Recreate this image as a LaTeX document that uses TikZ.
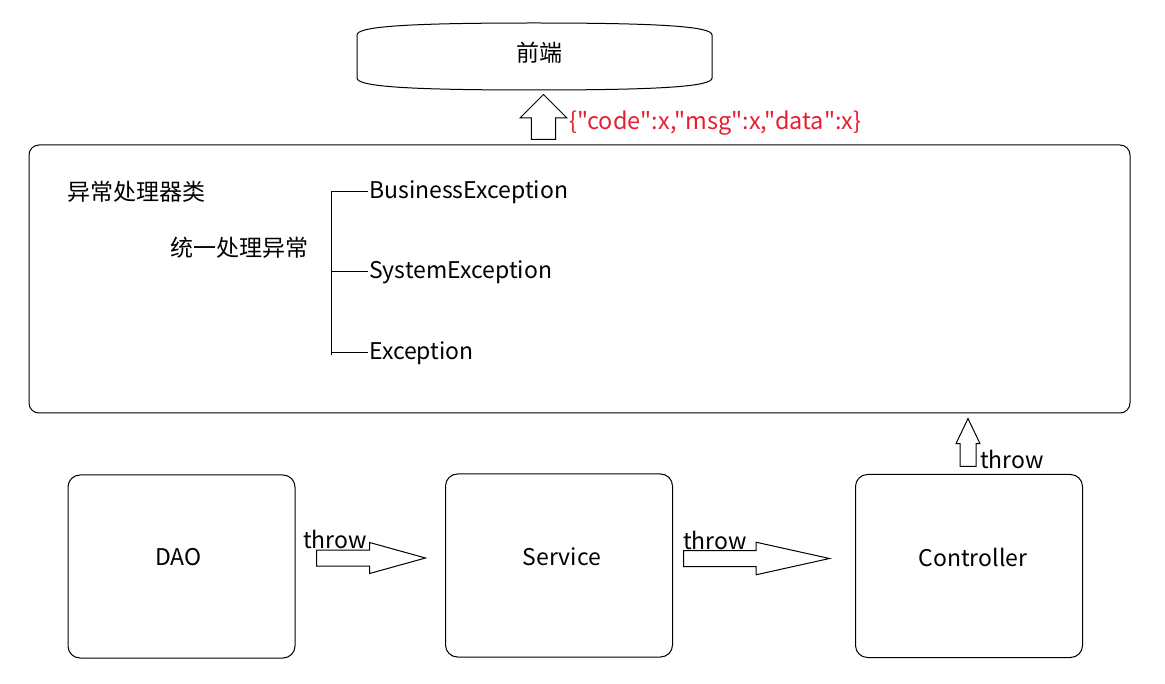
\documentclass[tikz,border=0pt]{standalone}
\usepackage{fontspec}
\setmainfont{Noto Sans CJK SC}
\newfontfamily\jsonfont{Noto Sans CJK SC}
\usetikzlibrary{shapes.arrows}
\definecolor{jsonred}{RGB}{232,30,48}
\tikzset{
  txt/.style={inner sep=0.75pt, font=\fontsize{17.25pt}{20pt}\selectfont},
  layerbox/.style={draw, line width=0.75pt, rounded corners=9pt, minimum width=170.25pt, minimum height=137.25pt},
  blockarrow/.style={draw, line width=0.75pt, single arrow, anchor=tail}
}
\begin{document}
\begin{tikzpicture}[x=0.75pt,y=0.75pt,yscale=-1,xscale=1]
	\useasboundingbox (0,0) rectangle (1165,684);
	%Front end [id:fe]
	\draw [line width=0.75pt] (357,35) .. controls (357,27) and (400,23) .. (534,23) .. controls (668,23) and (712,27) .. (712,35) -- (712,78) .. controls (712,86) and (668,90) .. (534,90) .. controls (400,90) and (357,86) .. (357,78) -- cycle ;
	\node [txt] (fe) at (539.5,53) {前端};
	%Handler class
	\draw [line width=0.75pt, rounded corners=7.5pt] (29,145) rectangle (1130,413) ;
	\node [txt, anchor=west] (hc) at (66,192) {异常处理器类};
	\node [txt, anchor=west] (uh) at (169,248) {统一处理异常};
	% Exception branches
	\node [txt, anchor=west] (be) at (368,192) {BusinessException};
	\node [txt, anchor=west] (se) at (368,272) {SystemException};
	\node [txt, anchor=west] (ex) at (368,353) {Exception};
	\coordinate (brtop) at (331,192);
	\coordinate (brbot) at (331,355);
	\draw [line width=0.75pt] (brtop) -- (brbot) ;
	\draw [line width=0.75pt] (brtop) -- (be.west) ;
	\draw [line width=0.75pt] (brtop |- se.west) -- (se.west) ;
	\draw [line width=0.75pt] (brtop |- ex.west) -- (ex.west) ;
	%Layers
	\node [layerbox] (dao) at (181.5,566.5) {};
	\node [layerbox] (svc) at (559,565.5) {};
	\node [layerbox] (ctl) at (969,566) {};
	\node [txt] (daot) at ([xshift=-2.25pt,yshift=-6.75pt]dao.center) {DAO};
	\node [txt] (svct) at ([xshift=2.25pt,yshift=-6.75pt]svc.center) {Service};
	\node [txt] (ctlt) at ([xshift=3pt,yshift=-6.75pt]ctl.center) {Controller};
	%Block arrows
	\node [blockarrow, inner xsep=0pt, inner ysep=5.625pt, minimum height=81.75pt, single arrow head extend=5.625pt, single arrow tip angle=31] (a1) at (316,558) {};
	\node [txt, anchor=south west] at (302,550) {throw};
	\node [blockarrow, inner xsep=0pt, inner ysep=5.625pt, minimum height=109.5pt, single arrow head extend=6.2pt, single arrow tip angle=25] (a2) at (683,558.5) {};
	\node [txt, anchor=south west] at (682,551) {throw};
	\node [blockarrow, inner ysep=0pt, inner xsep=5.625pt, shape border rotate=90, minimum height=36pt, single arrow head extend=3pt, single arrow tip angle=51] (a3) at (968,467) {};
	\node [txt, anchor=west] at (979,459) {throw};
	\node [blockarrow, inner ysep=0pt, inner xsep=8.75pt, shape border rotate=90, minimum height=33.75pt, single arrow head extend=8.5pt, single arrow tip angle=90] (a4) at (543.5,140) {};
	\node [txt, anchor=west, text=jsonred, font=\fontsize{17.6pt}{20pt}\selectfont] (json) at (568,123) {\jsonfont\{"code":x,"msg":x,"data":x\}};
\end{tikzpicture}
\end{document}
